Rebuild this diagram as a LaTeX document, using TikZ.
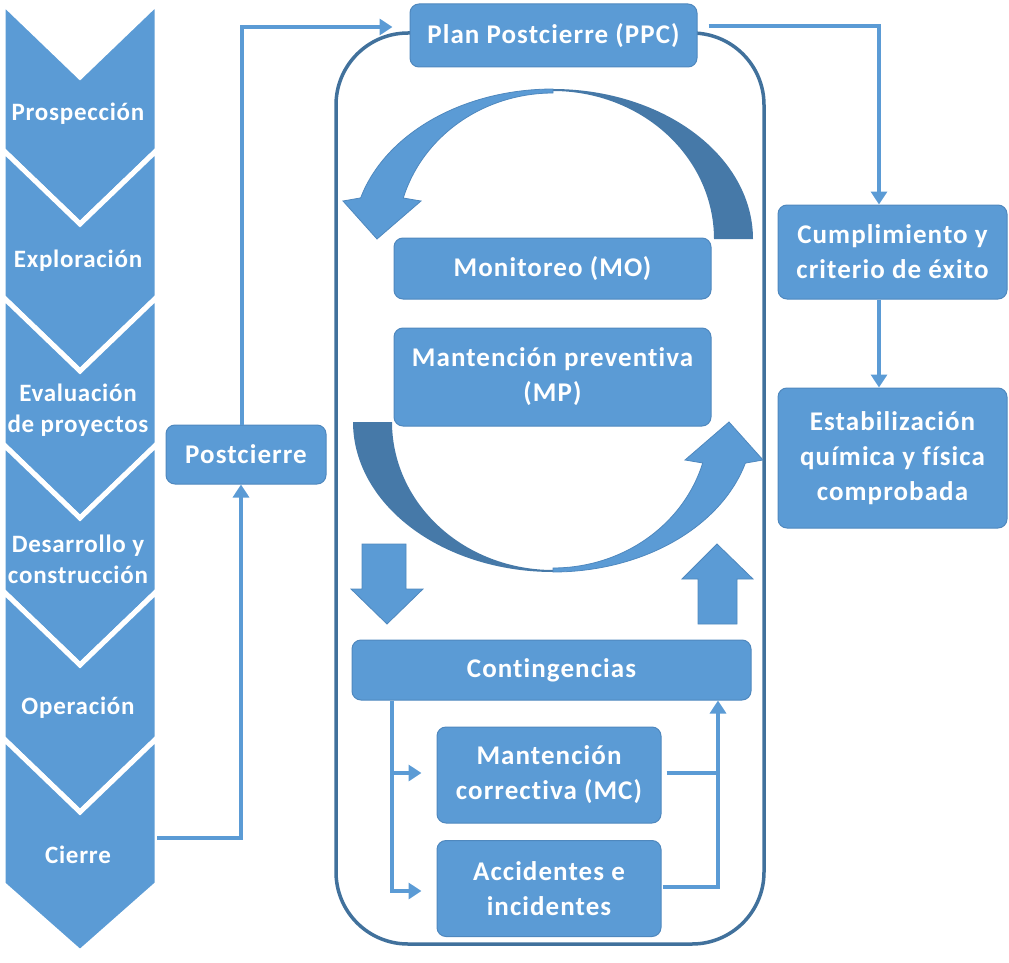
\documentclass[tikz,border=0pt]{standalone}
\usepackage{fontspec}
\setmainfont{Carlito}[Ligatures={NoCommon}]
\usetikzlibrary{arrows.meta,calc}
\definecolor{office}{HTML}{5B9BD5}
\definecolor{officeedge}{HTML}{4F88BE}
\definecolor{deep}{HTML}{41719C}
\definecolor{arcdark}{HTML}{4679A8}

\begin{document}
\begin{tikzpicture}[x=1pt,y=-1pt,
  lbl/.style={font=\addfontfeatures{LetterSpace=4}\bfseries\fontsize{27}{35}\selectfont, text=white, align=center, inner sep=0pt},
  chevlbl/.style={font=\addfontfeatures{LetterSpace=3}\bfseries\fontsize{25}{31}\selectfont, text=white, align=center, inner sep=0pt},
  box/.style={lbl, draw=officeedge, line width=1pt, fill=office, rounded corners=9pt},
  chev/.style={fill=office, draw=white, line width=5pt, line join=miter},
  wire/.style={draw=office, line width=3.5pt},
  link/.style={wire, -{Triangle[length=13pt,width=16pt]}},
  block/.style={fill=office, draw=officeedge, line width=0.8pt},
  backarc/.style={fill=arcdark},
]
\useasboundingbox (0,0) rectangle (1009,963);

% life-cycle chevrons
\foreach \t in {3,150,297,444,591}
  \draw[chev] (3,\t) -- (80,\t+74) -- (157,\t) -- (157,\t+147) -- (80,\t+221) -- (3,\t+147) -- cycle;
\draw[chev] (3,738) -- (80,812) -- (157,738) -- (157,884) -- (80,952) -- (3,884) -- cycle;
\node[chevlbl] (ch1) at (78,114) {Prospección};
\node[chevlbl] (ch2) at (78,261) {Exploración};
\node[chevlbl] (ch3) at (78,410) {Evaluación\\de proyectos};
\node[chevlbl] (ch4) at (78,559) {Desarrollo y\\construcción};
\node[chevlbl] (ch5) at (78,708) {Operación};
\node[chevlbl] (ch6) at (78,855) {Cierre};
\coordinate (cierreOut) at (157,838);

% post-closure frame
\draw[deep, line width=3.5pt, rounded corners=72pt] (336,33) rectangle (764,944);

% upper curved arrow
\fill[backarc] plot[domain=-90:0, samples=60] ({553+200*cos(\x)},{239+150*sin(\x)})
  -- plot[domain=0:-90, samples=60] ({553+161*cos(\x)},{239+148*sin(\x)}) -- cycle;
\filldraw[block] plot[domain=-90:-164.1, samples=60] ({553+200*cos(\x)},{239+150*sin(\x)})
  -- (343,201) -- (377,239) -- (421,201)
  -- plot[domain=-163.7:-90, samples=60] ({553+156*cos(\x)},{239+146*sin(\x)}) -- cycle;

% lower curved arrow (point reflection of the upper one)
\begin{scope}[rotate around={180:(553,330.5)}]
\fill[backarc] plot[domain=-90:0, samples=60] ({553+200*cos(\x)},{239+150*sin(\x)})
  -- plot[domain=0:-90, samples=60] ({553+161*cos(\x)},{239+148*sin(\x)}) -- cycle;
\filldraw[block] plot[domain=-90:-164.1, samples=60] ({553+200*cos(\x)},{239+150*sin(\x)})
  -- (343,201) -- (377,239) -- (421,201)
  -- plot[domain=-163.7:-90, samples=60] ({553+156*cos(\x)},{239+146*sin(\x)}) -- cycle;
\end{scope}

% straight block arrows
\filldraw[block] (362,544) -- (406,544) -- (406,589) -- (423,589) -- (387,624) -- (351,589) -- (362,589) -- cycle;
\filldraw[block] (698,624) -- (737,624) -- (737,579) -- (753,579) -- (717,544) -- (682,579) -- (698,579) -- cycle;

% boxes
\node[box, minimum width=287pt, minimum height=63pt] (ppc) at (553.5,35.5) {Plan Postcierre (PPC)};
\node[box, minimum width=160pt, minimum height=59pt] (post) at (246,454.5) {Postcierre};
\node[box, minimum width=317pt, minimum height=61pt] (mo) at (552.5,268.5) {Monitoreo (MO)};
\node[box, minimum width=317pt, minimum height=98pt] (mp) at (552.5,377) {Mantención preventiva\\(MP)};
\node[box, minimum width=399pt, minimum height=60pt] (cont) at (551.5,670) {Contingencias};
\node[box, minimum width=224pt, minimum height=96pt] (mc) at (549,775) {Mantención\\correctiva (MC)};
\node[box, minimum width=224pt, minimum height=96pt] (acc) at (549,888.5) {Accidentes e\\incidentes};
\node[box, minimum width=229pt, minimum height=94pt] (cum) at (892.5,252) {Cumplimiento y\\criterio de éxito};
\node[box, minimum width=229pt, minimum height=140pt] (est) at (892.5,458) {Estabilización\\química y física\\comprobada};

% connectors
\draw[link] (cierreOut) -| ($(post.south)+(-5,0)$);
\draw[link] ($(post.north)+(-4,0)$) |- ($(ppc.west)+(-17,-8.5)$);
\draw[link] ($(ppc.east)+(11,-9.5)$) -| ($(cum.north)+(-13.5,0)$);
\draw[link] ($(cum.south)+(-13.5,0)$) -- ($(est.north)+(-13.5,0)$);
\draw[link] ($(cont.south)+(-159.5,0)$) |- ($(mc.west)+(-15,-2)$);
\draw[link] ($(cont.south)+(-159.5,0)$) |- ($(acc.west)+(-15,2.5)$);
\draw[wire] ($(mc.east)+(5,-2)$) -- ++(52,0);
\draw[link] ($(acc.east)+(1,-1.5)$) -| ($(cont.south)+(166.5,0)$);
\end{tikzpicture}
\end{document}
